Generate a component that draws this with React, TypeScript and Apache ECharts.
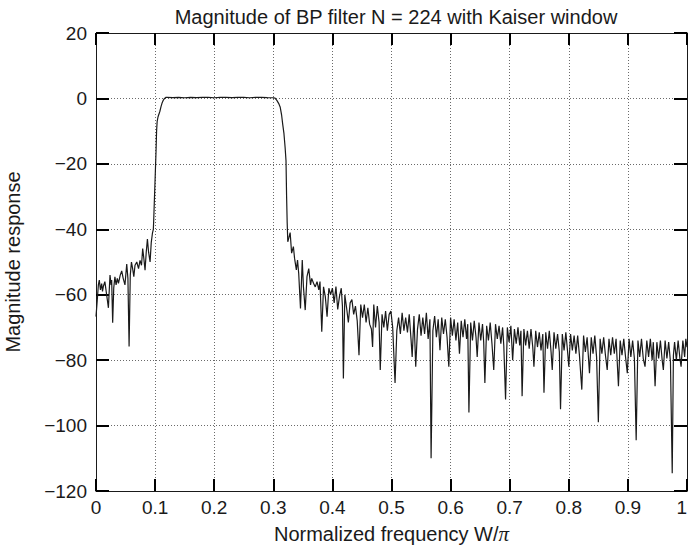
import React, { useEffect, useRef } from "react";
import * as echarts from "echarts";

// Normalized frequency W/pi vs magnitude (dB)
const leftStopband: [number, number][] = [
  [0.0, -66.7], [0.002, -62], [0.004, -57], [0.0056, -55.5], [0.0075, -58.5], [0.0096, -56.6],
  [0.011, -59], [0.0124, -57.5], [0.015, -56], [0.018, -60], [0.021, -64], [0.0237, -54],
  [0.0255, -57], [0.0265, -55.5], [0.0282, -68.6], [0.03, -58], [0.032, -54.5], [0.034, -57],
  [0.036, -55], [0.038, -56.5], [0.041, -54], [0.0435, -52.7], [0.046, -55], [0.049, -57],
  [0.052, -50.6], [0.054, -55], [0.056, -75.8], [0.058, -54], [0.06, -50], [0.062, -52],
  [0.064, -54.5], [0.066, -51], [0.069, -50], [0.072, -52], [0.0745, -49.5], [0.077, -51],
  [0.079, -45.9], [0.081, -49], [0.083, -52.5], [0.085, -47], [0.087, -43], [0.089, -47],
  [0.0915, -50], [0.0935, -44], [0.0955, -41.2], [0.097, -40],
];

const leftTransition: [number, number][] = [
  [0.0975, -38], [0.099, -30], [0.1005, -22], [0.1016, -16], [0.1025, -10], [0.1035, -7],
  [0.105, -5.6], [0.108, -4], [0.11, -2.5], [0.112, -1.3], [0.114, -0.5], [0.116, 0.0], [0.118, 0.3],
];

const passband: [number, number][] = [
  [0.12, 0.3], [0.13, 0.25], [0.14, 0.35], [0.15, 0.2], [0.16, 0.3], [0.17, 0.25], [0.18, 0.35],
  [0.19, 0.3], [0.2, 0.2], [0.21, 0.35], [0.22, 0.3], [0.23, 0.25], [0.24, 0.35], [0.25, 0.3],
  [0.26, 0.2], [0.27, 0.3], [0.28, 0.35], [0.29, 0.25], [0.3, 0.2],
];

const rightTransition: [number, number][] = [
  [0.303, 0.1], [0.306, -0.6], [0.309, -1.5], [0.3116, -2.6], [0.314, -5], [0.316, -8],
  [0.318, -10.7], [0.32, -15], [0.3215, -19], [0.3225, -30], [0.3235, -38], [0.3245, -43.8],
  [0.3265, -42.5], [0.3285, -41],
];

const rightStopband: [number, number][] = [
  [0.331, -47.3], [0.334, -45.3], [0.336, -48.9], [0.339, -52.4], [0.341, -49.4], [0.343, -53.5],
  [0.346, -64.2], [0.349, -49.4], [0.351, -57.6], [0.354, -64.7], [0.357, -54.5], [0.36, -52.0],
  [0.363, -57.0], [0.365, -55.0], [0.368, -56.5], [0.371, -57.6], [0.374, -56.0], [0.377, -58.5],
  [0.379, -56.0], [0.382, -71.3], [0.385, -57.6], [0.388, -60.6], [0.391, -66.7], [0.394, -58.0],
  [0.397, -60.0], [0.4, -58.0], [0.403, -62.5], [0.406, -57.5], [0.409, -64.5], [0.412, -60.5],
  [0.415, -58.0], [0.417, -63.5], [0.4186, -85.6], [0.421, -60.0], [0.424, -64.0], [0.427, -68.5],
  [0.43, -62.5], [0.433, -61.5], [0.436, -66.0], [0.439, -63.5], [0.442, -68.0], [0.445, -78.5],
  [0.448, -63.0], [0.451, -67.0], [0.454, -63.0], [0.457, -68.5], [0.46, -64.0], [0.463, -69.0],
  [0.466, -70.5], [0.468, -76.0], [0.47, -63.0], [0.473, -70.0], [0.476, -63.5], [0.479, -68.5],
  [0.481, -83.0], [0.484, -66.0], [0.487, -70.0], [0.49, -65.0], [0.493, -71.0], [0.496, -66.0],
  [0.499, -65.0], [0.502, -70.0], [0.506, -87.0], [0.509, -71.0], [0.512, -67.0], [0.515, -72.0],
  [0.518, -65.5], [0.521, -71.0], [0.524, -67.0], [0.527, -71.5], [0.53, -66.0], [0.533, -73.5],
  [0.535, -79.0], [0.538, -66.5], [0.541, -82.0], [0.544, -70.5], [0.547, -66.0], [0.55, -72.5],
  [0.553, -67.0], [0.556, -72.0], [0.559, -65.5], [0.562, -73.5], [0.565, -67.5], [0.567, -110.0],
  [0.57, -71.0], [0.573, -66.5], [0.576, -73.0], [0.579, -67.5], [0.582, -77.0], [0.585, -67.0],
  [0.588, -72.0], [0.591, -67.5], [0.594, -73.0], [0.597, -82.0], [0.6, -67.0], [0.603, -72.5],
  [0.606, -67.5], [0.609, -74.0], [0.612, -68.5], [0.615, -78.0], [0.618, -68.0], [0.621, -73.0],
  [0.624, -67.5], [0.627, -73.5], [0.629, -69.0], [0.631, -96.0], [0.634, -68.5], [0.637, -74.0],
  [0.64, -68.0], [0.643, -73.0], [0.645, -79.0], [0.648, -68.5], [0.651, -74.0], [0.654, -69.0],
  [0.656, -74.5], [0.658, -87.0], [0.661, -69.5], [0.664, -74.0], [0.667, -68.5], [0.67, -75.0],
  [0.673, -83.0], [0.676, -69.0], [0.679, -73.5], [0.682, -69.5], [0.685, -75.0], [0.688, -70.0],
  [0.69, -75.5], [0.693, -92.0], [0.696, -70.0], [0.699, -74.5], [0.702, -69.5], [0.705, -80.0],
  [0.708, -70.5], [0.711, -75.0], [0.714, -70.0], [0.717, -75.5], [0.719, -71.0], [0.721, -91.0],
  [0.724, -70.5], [0.727, -75.5], [0.73, -71.0], [0.733, -76.5], [0.736, -70.5], [0.739, -76.0],
  [0.741, -82.0], [0.744, -71.0], [0.747, -76.0], [0.75, -71.5], [0.753, -77.0], [0.756, -72.0],
  [0.758, -90.0], [0.761, -71.5], [0.764, -76.5], [0.767, -71.0], [0.77, -77.5], [0.772, -83.0],
  [0.775, -71.5], [0.778, -76.5], [0.781, -72.0], [0.784, -77.5], [0.786, -95.0], [0.789, -72.0],
  [0.792, -77.0], [0.795, -71.5], [0.798, -77.5], [0.8, -82.0], [0.803, -72.0], [0.806, -77.0],
  [0.809, -72.5], [0.812, -78.0], [0.815, -72.5], [0.818, -78.5], [0.822, -89.0], [0.825, -72.5],
  [0.828, -77.5], [0.831, -73.0], [0.833, -78.5], [0.835, -84.0], [0.838, -73.0], [0.841, -78.0],
  [0.844, -72.5], [0.847, -79.0], [0.85, -99.0], [0.853, -73.5], [0.856, -78.0], [0.859, -73.0],
  [0.862, -78.5], [0.865, -83.0], [0.868, -73.5], [0.871, -78.5], [0.874, -73.0], [0.877, -78.0],
  [0.88, -73.5], [0.884, -88.0], [0.887, -74.0], [0.89, -78.5], [0.893, -73.5], [0.896, -79.0],
  [0.899, -84.0], [0.902, -73.5], [0.905, -79.0], [0.908, -74.0], [0.911, -79.5], [0.914, -104.5],
  [0.917, -74.0], [0.92, -79.0], [0.923, -73.5], [0.926, -79.5], [0.929, -82.0], [0.932, -74.0],
  [0.935, -79.0], [0.938, -73.5], [0.941, -80.0], [0.943, -74.5], [0.946, -88.0], [0.949, -74.5],
  [0.952, -79.5], [0.955, -74.0], [0.958, -80.0], [0.96, -83.0], [0.963, -74.0], [0.966, -79.5],
  [0.969, -74.5], [0.972, -80.5], [0.975, -114.6], [0.977, -78.5], [0.979, -74.5], [0.982, -80.0],
  [0.985, -74.0], [0.988, -79.5], [0.99, -82.0], [0.993, -74.0], [0.996, -79.0], [0.998, -73.5],
  [1.0, -76.0],
];

const titleText = "Magnitude of BP filter N = 224 with Kaiser window";
const xName = "Normalized frequency W/";
const yName = "Magnitude response";

const FONT = '"Liberation Sans", Arial, Helvetica, sans-serif';
const INK = "#1a1a1a";

export default function App() {
  const ref = useRef<HTMLDivElement>(null);
  useEffect(() => {
    document.body.style.margin = "0";
    const chart = echarts.init(ref.current!, null, { renderer: "svg" });
    const data = [...leftStopband, ...leftTransition, ...passband, ...rightTransition, ...rightStopband];
    const axisStyle = { color: INK, width: 1 };
    const tickStyle = { color: "#000", width: 2 };
    const gridStyle = { color: "#444", width: 0.8, type: [1, 2] as any };
    chart.setOption({
      animation: false,
      backgroundColor: "#ffffff",
      textStyle: { fontFamily: FONT, color: INK },
      title: {
        text: titleText,
        left: 391,
        textAlign: "center",
        top: 2,
        textStyle: { fontFamily: FONT, fontSize: 20, fontWeight: "normal", color: INK },
      },
      grid: { left: 96, top: 33, right: 1, bottom: 60, containLabel: false, outerBoundsMode: "none" },
      xAxis: [
        {
          type: "value",
          min: 0,
          max: 1,
          interval: 0.1,
          position: "bottom",
          name: xName + "{pi|π}",
          nameLocation: "middle",
          nameGap: 32,
          nameTextStyle: {
            fontFamily: FONT,
            fontSize: 20,
            color: INK,
            rich: { pi: { fontFamily: '"Liberation Serif", "DejaVu Serif", serif', fontStyle: "italic", fontSize: 21, color: INK } },
          },
          axisLine: { show: true, onZero: false, lineStyle: axisStyle },
          axisTick: { show: true, inside: true, length: 12, lineStyle: tickStyle },
          axisLabel: { fontFamily: FONT, fontSize: 19, color: INK, margin: 7, alignMaxLabel: "right" },
          splitLine: { show: true, lineStyle: gridStyle },
        },
        {
          type: "value",
          min: 0,
          max: 1,
          interval: 0.1,
          position: "top",
          axisLine: { show: true, onZero: false, lineStyle: axisStyle },
          axisTick: { show: true, inside: true, length: 12, lineStyle: tickStyle },
          axisLabel: { show: false },
          splitLine: { show: false },
        },
      ],
      yAxis: [
        {
          type: "value",
          min: -120,
          max: 20,
          interval: 20,
          position: "left",
          name: yName,
          nameLocation: "middle",
          nameGap: 73,
          nameTextStyle: { fontFamily: FONT, fontSize: 20, color: INK },
          axisLine: { show: true, onZero: false, lineStyle: axisStyle },
          axisTick: { show: true, inside: true, length: 13, lineStyle: tickStyle },
          axisLabel: {
            fontFamily: FONT,
            fontSize: 19,
            color: INK,
            margin: 9,
            formatter: (v: number) => String(v).replace("-", "\u2212"),
          },
          splitLine: { show: true, lineStyle: gridStyle },
        },
        {
          type: "value",
          min: -120,
          max: 20,
          interval: 20,
          position: "right",
          axisLine: { show: true, onZero: false, lineStyle: axisStyle },
          axisTick: { show: true, inside: true, length: 13, lineStyle: tickStyle },
          axisLabel: { show: false },
          splitLine: { show: false },
        },
      ],
      series: [
        {
          type: "line",
          xAxisIndex: 0,
          yAxisIndex: 0,
          data,
          showSymbol: false,
          symbol: "none",
          lineStyle: { color: "#1a1a1a", width: 1.2 },
          z: 3,
        },
      ],
    });
    return () => chart.dispose();
  }, []);
  return <div ref={ref} style={{ width: 688, height: 551 }} />;
}
